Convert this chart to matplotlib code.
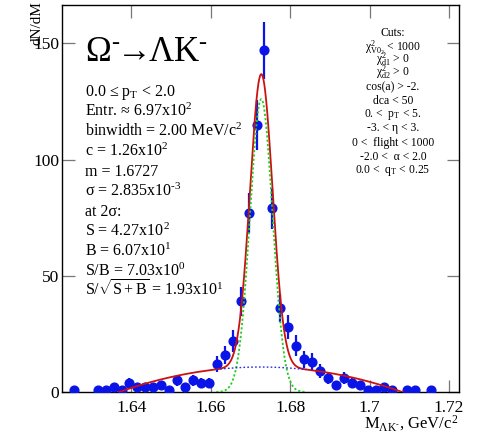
import numpy as np
import matplotlib
matplotlib.use('Agg')
import matplotlib.pyplot as plt

plt.rcParams['font.family'] = ['Liberation Serif', 'DejaVu Serif']
plt.rcParams['mathtext.fontset'] = 'custom'
plt.rcParams['mathtext.rm'] = 'Liberation Serif'
plt.rcParams['mathtext.it'] = 'Liberation Serif:italic'
plt.rcParams['mathtext.bf'] = 'Liberation Serif:bold'

# Omega- -> Lambda K- invariant mass, 2 MeV bins (non-empty bins only)
mass = [1.6255, 1.6315, 1.6335, 1.6355, 1.6375, 1.6395, 1.6415, 1.6435, 1.6455,
        1.6475, 1.6495, 1.6515, 1.6535, 1.6555, 1.6575, 1.6595, 1.6615, 1.6635,
        1.6655, 1.6675, 1.6695, 1.6715, 1.6735, 1.6755, 1.6775, 1.6795, 1.6815,
        1.6835, 1.6855, 1.6875, 1.6895, 1.6915, 1.6935, 1.6955, 1.6975, 1.6995,
        1.7015, 1.7035, 1.7055, 1.7095, 1.7115, 1.7155]
counts = [1, 1, 1, 2, 1, 4, 2, 2, 2,
          3, 1, 5, 2, 5, 4, 4, 12, 16,
          22, 39, 77, 115, 147, 79, 36, 28, 20,
          14, 13, 9, 6, 3, 6, 4, 3, 1,
          1, 2, 1, 1, 1, 1]

# fit: gaussian + quadratic background
c_fit = 126.0
m_fit = 1.6727
sigma_fit = 2.835e-3
bg_peak = 10.75
bg_lo, bg_hi = 1.6369, 1.7082

xticks = [1.64, 1.66, 1.68, 1.70, 1.72]
xticklabels = ['1.64', '1.66', '1.68', '1.7', '1.72']
yticks = [0, 50, 100, 150]

info_lines = [
    r'0.0 ≤ p$_{\mathrm{T}}$ < 2.0',
    r'Entr. ≈ 6.97x10$^{2}$',
    r'binwidth = 2.00 MeV/c$^{2}$',
    r'c = 1.26x10$^{2}$',
    r'm = 1.6727',
    r'σ = 2.835x10$^{‐3}$',
    r'at 2σ:',
    r'S = 4.27x10$^{2}$',
    r'B = 6.07x10$^{1}$',
    r'S/B = 7.03x10$^{0}$',
    r'S/$\sqrt{\mathrm{S+B}}$ = 1.93x10$^{1}$',
]

cut_lines = [
    'Cuts:',
    r'$\mathrm{χ}^{2}_{\mathrm{V0}_{2}}$ < 1000',
    r'$\mathrm{χ}^{2}_{\mathrm{d1}}$ > 0',
    r'$\mathrm{χ}^{2}_{\mathrm{d2}}$ > 0',
    'cos(a) > -2.',
    'dca < 50',
    r'0. <  p$_{\mathrm{T}}$ < 5.',
    '-3. < η < 3.',
    '0 <  flight < 1000',
    '-2.0 <  α < 2.0',
    r'0.0 <  q$_{\mathrm{T}}$ < 0.25',
]
cut_y = [33, 47, 61, 74, 87, 101, 114, 128, 143, 157, 170]


def gaus(x):
    return c_fit * np.exp(-0.5 * ((x - m_fit) / sigma_fit) ** 2)


def background(x):
    half = (bg_hi - bg_lo) / 2
    return bg_peak * (x - bg_lo) * (bg_hi - x) / half ** 2


fig = plt.figure(figsize=(4.82, 4.41), dpi=100)
ax = fig.add_axes([62 / 482, 1 - 392 / 441, (459 - 62) / 482, (392 - 5) / 441])

mass = np.array(mass)
counts = np.array(counts)
ax.errorbar(mass, counts, yerr=np.sqrt(counts), fmt='o', color='#0a14e6',
            ms=6.3, elinewidth=1.6, capsize=0, zorder=3)

xs = np.linspace(1.6225, 1.7225, 1000)
ax.plot(xs, gaus(xs) + background(xs), color='#cc1111', lw=1.3, zorder=4)

xw = np.linspace(m_fit - 4 * sigma_fit, m_fit + 4 * sigma_fit, 300)
ax.plot(xw, gaus(xw), color='#22cc22', lw=1.3, ls=(0, (1.2, 1.2)), zorder=4)
ax.plot(xw, background(xw), color='#2a2ae0', lw=1.0, ls=(0, (1.2, 1.6)), zorder=4)

ax.set_xlim(1.6225, 1.7225)
ax.set_ylim(0, 166.5)
ax.set_xticks(xticks)
ax.set_xticklabels(xticklabels)
ax.set_yticks(yticks)
ax.tick_params(direction='in', length=9, width=0.9, color='#777777',
               top=True, right=True, labelsize=12.5)
ax.tick_params(axis='x', pad=6)
ax.tick_params(axis='y', pad=2)
for s in ax.spines.values():
    s.set_linewidth(1.0)

fig.text(85 / 482, 1 - 61 / 441,
         r'$\Omega^{‐}\!\!\rightarrow\!\!\Lambda\mathrm{K}^{‐}$',
         fontsize=25, va='baseline')

for i, line in enumerate(info_lines):
    fig.text(85 / 482, 1 - (96 + 20 * i) / 441, line, fontsize=11.5, va='baseline')

for yy, line in zip(cut_y, cut_lines):
    fig.text(393 / 482, 1 - (yy + 3) / 441, line, fontsize=8.4,
             ha='center', va='baseline')

fig.text(458 / 482, 1 - 428 / 441, r'M$_{\Lambda\mathrm{K}^{‐}}$, GeV/c$^{2}$',
         fontsize=12, ha='right', va='baseline')
fig.text(37 / 482, 1 - 1 / 441, 'dN/dM', fontsize=11, rotation=90,
         ha='center', va='top')

fig.savefig('out.png', dpi=100)
